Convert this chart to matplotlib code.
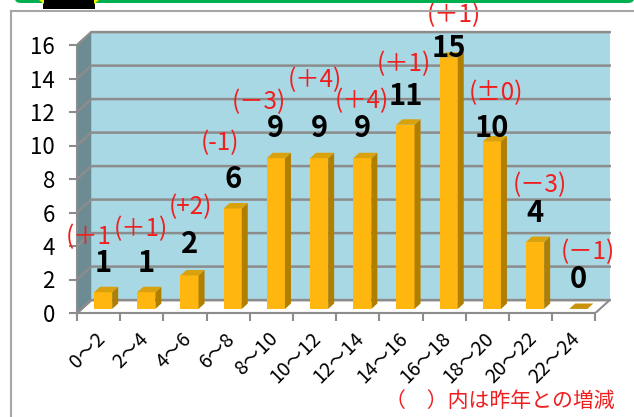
import numpy as np
import matplotlib.pyplot as plt
from matplotlib.patches import Polygon, Rectangle, FancyBboxPatch

plt.rcParams['font.family'] = ['Noto Sans CJK JP', 'DejaVu Sans']

# data
ranges = ["0～2", "2～4", "4～6", "6～8", "8～10", "10～12",
          "12～14", "14～16", "16～18", "18～20", "20～22", "22～24"]
counts = [1, 1, 2, 6, 9, 9, 9, 11, 15, 10, 4, 0]
changes = ["(＋1", "(＋1)", "(+2)", "(-1)", "(－3)", "(＋4)",
           "(＋4)", "(＋1)", "(＋1)", "(±0)", "(－3)", "(－1)"]

# layout of labels (placed by hand in the original)
count_gap = [1.45, 1.45, 1.58, 1.46, 1.5, 1.5, 1.5, 1.42, 0.28, 0.5, 1.43, 1.49]
change_pos = [(0.28, 4.54), (1.48, 5.01), (2.62, 6.33), (3.31, 10.15),
              (4.21, 12.6), (5.51, 13.91), (6.60, 12.65), (7.57, 14.87),
              (8.73, 17.79), (9.70, 13.13), (10.72, 7.64), (11.83, 3.64)]

W, H = 634, 417
fig = plt.figure(figsize=(W / 100, H / 100), dpi=100)

# outer decorations
fig.add_artist(FancyBboxPatch((15 / W, 1 - 3 / H), (W - 15) / W, 10 / H,
                              boxstyle="round,pad=0,rounding_size=0.01",
                              transform=fig.transFigure, color="#00B050", lw=0))
fig.add_artist(Rectangle((43 / W, 1 - 9 / H), 52 / W, 9 / H,
                         transform=fig.transFigure, color="black", lw=0))
fig.add_artist(Polygon([(39 / W, 1), (44 / W, 1), (44 / W, 1 - 4 / H)],
                       transform=fig.transFigure, color="#F5F000", lw=0))
fig.add_artist(Polygon([(94 / W, 1), (99 / W, 1), (94 / W, 1 - 4 / H)],
                       transform=fig.transFigure, color="#F5F000", lw=0))
fig.add_artist(plt.Line2D([11 / W, 1], [1 - 11 / H, 1 - 11 / H],
                          transform=fig.transFigure, color="#A6A6A6", lw=1.5))
fig.add_artist(plt.Line2D([11 / W, 11 / W], [0, 1 - 11 / H],
                          transform=fig.transFigure, color="#A6A6A6", lw=1.5))

ux, uy = 43.2, 16.75
ax = fig.add_axes([77 / W, (H - 313) / H, 12.5 * ux / W, 17.5 * uy / H])
ax.set_xlim(0, 12.5)
ax.set_ylim(0, 17.5)

n = len(counts)
dx, dy = 0.33, 0.77
grid_c = "#8C8C8C"

# walls and floor
ax.add_patch(Rectangle((dx, dy), n, 16, color="#A9D8E5", lw=0, zorder=0))
ax.add_patch(Polygon([(0, 0), (dx, dy), (dx, 16 + dy), (0, 16)],
                     color="#6D8B93", lw=0, zorder=0))
ax.add_patch(Polygon([(0, 0), (n, 0), (n + dx, dy), (dx, dy)],
                     facecolor="white", edgecolor=grid_c, lw=1.5, zorder=1))
for v in range(0, 17, 2):
    ax.plot([0, dx, n + dx], [v, v + dy, v + dy], color=grid_c, lw=1.8, zorder=1)

# bars
f, g, w = 0.315, 0.42, 0.42
b0 = f * dy
xc = np.arange(n) + 0.5 + f * dx
ax.bar(xc, counts, width=w, bottom=b0, color="#FFB70F", lw=0, zorder=3)
for x, v in zip(xc, counts):
    xl, xr, yt = x - w / 2, x + w / 2, b0 + v
    if v > 0:
        ax.add_patch(Polygon([(xr, b0), (xr + g * dx, b0 + g * dy),
                              (xr + g * dx, yt + g * dy), (xr, yt)],
                             color="#B07F00", lw=0, zorder=3))
    ax.add_patch(Polygon([(xl, yt), (xl + g * dx, yt + g * dy),
                          (xr + g * dx, yt + g * dy), (xr, yt)],
                         color="#D9A10C" if v > 0 else "#C8920A", lw=0, zorder=3))

# value labels and changes
for x, v, gap in zip(xc, counts, count_gap):
    ax.text(x, v + gap, str(v), ha="center", va="baseline", fontsize=21,
            fontweight="bold", color="black", zorder=5)
for (px, py), t in zip(change_pos, changes):
    ax.text(px, py, t, ha="center", va="center", fontsize=17.5,
            color="#F01E1E", zorder=5)

# axes
for s in ["top", "right"]:
    ax.spines[s].set_visible(False)
ax.spines["left"].set_bounds(0, 16)
ax.spines["bottom"].set_bounds(0, n)
for s in ["left", "bottom"]:
    ax.spines[s].set_color(grid_c)
    ax.spines[s].set_linewidth(1.5)
ax.set_yticks(range(0, 17, 2))
ax.tick_params(axis="y", length=6, width=1.5, color=grid_c, labelsize=16, pad=10)
ax.set_xticks(range(n + 1))
ax.set_xticklabels([])
ax.tick_params(axis="x", length=6, width=1.5, color=grid_c)
for i, lab in enumerate(ranges):
    ax.text(i + 0.58, -1.35, lab, rotation=45, rotation_mode="anchor",
            ha="right", va="center", fontsize=14, clip_on=False)

fig.text(500 / W, 1 - 401 / H, "（　）内は昨年との増減", ha="center", va="center",
         fontsize=15, color="#F01E1E")

fig.savefig("out.png", dpi=100)
